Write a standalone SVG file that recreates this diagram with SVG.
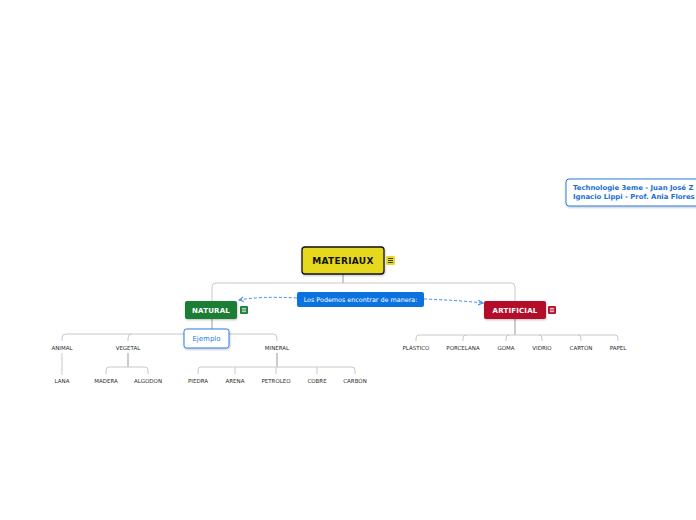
<svg xmlns="http://www.w3.org/2000/svg" width="696" height="520" viewBox="0 0 696 520">
<defs>
<style>
.lbl{font-family:"DejaVu Sans",Verdana,sans-serif;font-size:5.5px;fill:#2a2a2a;text-anchor:middle}
.main{font-family:"DejaVu Sans",Verdana,sans-serif;font-weight:bold;text-anchor:middle}
.ln{fill:none;stroke:#c9c9c9;stroke-width:1}
.ld{fill:none;stroke:#999;stroke-width:1}
.dash{fill:none;stroke:#3d8fe6;stroke-width:1;stroke-dasharray:3,2}
</style>
<marker id="arr" viewBox="0 0 6 6" refX="5" refY="3" markerWidth="6" markerHeight="6" orient="auto">
<path d="M0,0.5 L5,3 L0,5.5" fill="none" stroke="#3d8fe6" stroke-width="1"/>
</marker>
<filter id="sh" x="-10%" y="-10%" width="130%" height="150%">
<feDropShadow dx="0.5" dy="1" stdDeviation="0.8" flood-color="#000" flood-opacity="0.25"/>
</filter>
</defs>
<rect width="696" height="520" fill="#fff"/>
<g id="connectors">
<path class="ld" d="M343,274 V283"/>
<path class="ln" d="M212,301 V287 Q212,283 216,283 H511 Q515,283 515,287 V301" stroke="#aaa"/>
<path class="ld" d="M212,319 V334"/>
<path class="ln" d="M62,341 V338 Q62,334 66,334 H273 Q277,334 277,338 V341"/>
<path class="ln" d="M128,341 V338 Q128,334 132,334"/>
<path class="ln" d="M62,353 V375"/>
<path class="ld" d="M128,353 V367"/>
<path class="ln" d="M106,374 V370 Q106,367 109,367 H145 Q148,367 148,370 V374"/>
<path class="ld" d="M277,353 V367"/>
<path class="ln" d="M198,374 V370 Q198,367 201,367 H352 Q355,367 355,370 V374"/>
<path class="ln" d="M235,374 V367 M276,374 V367 M317,374 V367"/>
<path class="ld" d="M515,319 V335"/>
<path class="ln" d="M416,341 V338 Q416,335 419,335 H615 Q618,335 618,338 V341"/>
<path class="ln" d="M463,341 V338 Q463,335 466,335 M506,341 V338 Q506,335 509,335 M542,341 V338 Q542,335 539,335 M581,341 V338 Q581,335 578,335"/>
<path class="dash" d="M297,298 Q260,296 239,300" marker-end="url(#arr)"/>
<path class="dash" d="M424,299 Q455,300 483,303" marker-end="url(#arr)"/>
</g>
<g id="materiaux">
<rect x="302" y="247" width="82" height="27" rx="3" fill="#e6d81f" stroke="#111" stroke-width="1.3" filter="url(#sh)"/>
<text class="main" x="343" y="264" font-size="9" fill="#111" letter-spacing="0.3">MATERIAUX</text>
<rect x="386" y="256" width="9" height="9" rx="1.5" fill="#e6d81f"/>
<path d="M388,258.5 H393 M388,260.5 H393 M388,262.5 H393" stroke="#333" stroke-width="0.9"/>
</g>
<g id="natural">
<rect x="185" y="301" width="52" height="18" rx="2" fill="#1b7e35" filter="url(#sh)"/>
<text class="main" x="211" y="313" font-size="7" fill="#fff" letter-spacing="0.2">NATURAL</text>
<rect x="240" y="306" width="8" height="8" rx="1.2" fill="#1b7e35"/>
<path d="M241.8,308.3 H246.2 M241.8,310 H246.2 M241.8,311.7 H246.2" stroke="#fff" stroke-width="0.8"/>
</g>
<g id="artificial">
<rect x="484" y="301" width="62" height="18" rx="2" fill="#b3102b" filter="url(#sh)"/>
<text class="main" x="515" y="313" font-size="7" fill="#fff" letter-spacing="0.2">ARTIFICIAL</text>
<rect x="548" y="306" width="8" height="8" rx="1.2" fill="#b3102b"/>
<path d="M549.8,308.3 H554.2 M549.8,310 H554.2 M549.8,311.7 H554.2" stroke="#fff" stroke-width="0.8"/>
</g>
<g id="relation-label">
<rect x="297" y="292" width="127" height="15" rx="2" fill="#0b72e0"/>
<text x="360.5" y="302" font-family="'DejaVu Sans',Verdana,sans-serif" font-size="6.4" fill="#fff" text-anchor="middle">Los Podemos encontrar de manera:</text>
</g>
<g id="ejemplo">
<rect x="184" y="329" width="45" height="19" rx="2.5" fill="#fff" stroke="#2a7de1" stroke-width="1" filter="url(#sh)"/>
<text x="206.5" y="341" font-family="'DejaVu Sans',Verdana,sans-serif" font-size="7" fill="#2a7de1" text-anchor="middle">Ejemplo</text>
</g>
<g id="animal"><text class="lbl" x="62" y="350">ANIMAL</text></g>
<g id="vegetal"><text class="lbl" x="128" y="350">VEGETAL</text></g>
<g id="mineral"><text class="lbl" x="277" y="350">MINERAL</text></g>
<g id="lana"><text class="lbl" x="62" y="383">LANA</text></g>
<g id="madera"><text class="lbl" x="106" y="383">MADERA</text></g>
<g id="algodon"><text class="lbl" x="148" y="383">ALGODON</text></g>
<g id="piedra"><text class="lbl" x="198" y="383">PIEDRA</text></g>
<g id="arena"><text class="lbl" x="235" y="383">ARENA</text></g>
<g id="petroleo"><text class="lbl" x="276" y="383">PETROLEO</text></g>
<g id="cobre"><text class="lbl" x="317" y="383">COBRE</text></g>
<g id="carbon"><text class="lbl" x="355" y="383">CARBÓN</text></g>
<g id="plastico"><text class="lbl" x="416" y="350">PLÁSTICO</text></g>
<g id="porcelana"><text class="lbl" x="463" y="350">PORCELANA</text></g>
<g id="goma"><text class="lbl" x="506" y="350">GOMA</text></g>
<g id="vidrio"><text class="lbl" x="542" y="350">VIDRIO</text></g>
<g id="carton"><text class="lbl" x="581" y="350">CARTÓN</text></g>
<g id="papel"><text class="lbl" x="618" y="350">PAPEL</text></g>
<g id="credits">
<rect x="566" y="179" width="140" height="27" rx="3" fill="#fff" stroke="#2a7de1" stroke-width="1" filter="url(#sh)"/>
<text x="573" y="190" font-family="'DejaVu Sans',Verdana,sans-serif" font-weight="bold" font-size="6.9" fill="#1a6fd4">Technologie 3eme - Juan José Z</text>
<text x="573" y="199" font-family="'DejaVu Sans',Verdana,sans-serif" font-weight="bold" font-size="6.9" fill="#1a6fd4">Ignacio Lippi - Prof. Ania Flores</text>
</g>
</svg>
